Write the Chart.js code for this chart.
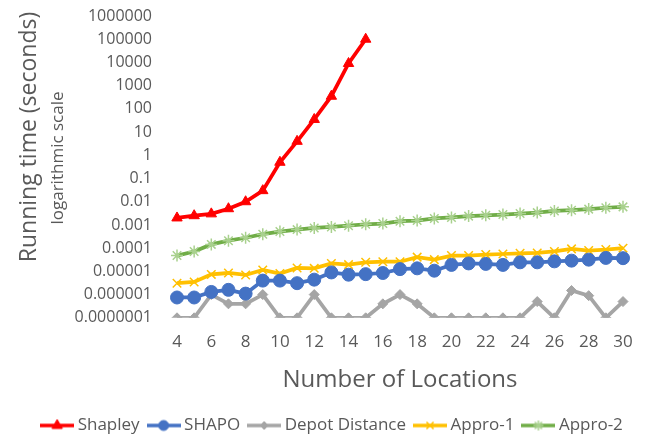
<!DOCTYPE html>
<html>
<head>
<meta charset="utf-8">
<script src="https://cdn.jsdelivr.net/npm/chart.js@4.4.0/dist/chart.umd.min.js"></script>
<style>
    html, body { margin: 0; padding: 0; background: #fff; }
    #wrap { width: 648px; height: 434px; }
</style>
</head>
<body>
<div id="wrap"><canvas id="runtimeChart" width="648" height="434"></canvas></div>
<script>
// Number of locations on the x axis
const locations = [4, 5, 6, 7, 8, 9, 10, 11, 12, 13, 14, 15, 16, 17, 18, 19, 20, 21, 22, 23, 24, 25, 26, 27, 28, 29, 30];

// Running times in seconds
const shapley = [0.002, 0.0025, 0.003, 0.005, 0.01, 0.03, 0.5, 4, 35, 350, 9000, 100000];
const shapo = [7.5e-7, 7.5e-7, 1.3e-6, 1.6e-6, 1.1e-6, 4e-6, 4e-6, 3.1e-6, 4.4e-6, 9e-6, 7.2e-6, 7.6e-6, 8.5e-6, 1.25e-5,
    1.35e-5, 1.07e-5, 1.9e-5, 2.2e-5, 2.1e-5, 1.9e-5, 2.45e-5, 2.45e-5, 2.7e-5, 2.9e-5, 3.2e-5, 3.8e-5, 3.7e-5];
const depotDistance = [1e-7, 1e-7, 1e-6, 4e-7, 4e-7, 1e-6, 1e-7, 1e-7, 1e-6, 1e-7, 1e-7, 1e-7, 4e-7, 1e-6,
    4e-7, 1e-7, 1e-7, 1e-7, 1e-7, 1e-7, 1e-7, 5e-7, 1e-7, 1.5e-6, 9e-7, 1e-7, 5e-7];
const appro1 = [3.1e-6, 3.5e-6, 7.4e-6, 8.5e-6, 7e-6, 1.15e-5, 8.1e-6, 1.4e-5, 1.35e-5, 2.2e-5, 1.95e-5, 2.45e-5, 2.6e-5, 2.6e-5,
    4.1e-5, 3.2e-5, 4.8e-5, 4.8e-5, 5.3e-5, 5.6e-5, 6e-5, 6.2e-5, 7.2e-5, 9.3e-5, 7.9e-5, 8.7e-5, 1e-4];
const appro2 = [4.8e-5, 7.2e-5, 1.45e-4, 2.1e-4, 2.8e-4, 4e-4, 5.2e-4, 6.3e-4, 7.4e-4, 8.2e-4, 9.3e-4, 1.07e-3, 1.15e-3, 1.45e-3,
    1.55e-3, 1.9e-3, 2.1e-3, 2.4e-3, 2.6e-3, 2.8e-3, 3.1e-3, 3.4e-3, 4e-3, 4.3e-3, 4.8e-3, 5.5e-3, 6e-3];

// Y axis tick values (powers of ten)
const yTicks = [1e-7, 1e-6, 1e-5, 1e-4, 1e-3, 1e-2, 1e-1, 1, 10, 100, 1000, 10000, 100000, 1000000];

const seriesNames = ['Shapley', 'SHAPO', 'Depot Distance', 'Appro-1', 'Appro-2'];
const xTitle = 'Number of Locations';
const yTitle = 'Running time (seconds)';
const ySubTitle = 'logarithmic scale';

const textColor = '#595959';
const fontFamily = '"Open Sans", sans-serif';

// Small legend icon: a line with the marker in the middle
function makeLegendIcon(lineColor, markerColor, style, radius, markerBorder) {
    const c = document.createElement('canvas');
    c.width = 34;
    c.height = 16;
    const ctx = c.getContext('2d');
    ctx.strokeStyle = lineColor;
    ctx.lineWidth = 3.5;
    ctx.beginPath();
    ctx.moveTo(0, 8);
    ctx.lineTo(34, 8);
    ctx.stroke();
    ctx.fillStyle = markerColor;
    ctx.strokeStyle = markerColor;
    ctx.lineWidth = markerBorder;
    Chart.helpers.drawPoint(ctx, { pointStyle: style, radius: radius, rotation: 0, borderWidth: markerBorder }, 17, 8);
    return c;
}

const yTitlesPlugin = {
    id: 'yTitles',
    afterDraw(chart) {
        const ctx = chart.ctx;
        ctx.save();
        ctx.fillStyle = textColor;
        ctx.textAlign = 'center';
        ctx.textBaseline = 'middle';
        ctx.save();
        ctx.translate(29, 137);
        ctx.rotate(-Math.PI / 2);
        ctx.font = '23px ' + fontFamily;
        ctx.fillText(yTitle, 0, 0);
        ctx.restore();
        ctx.translate(58, 158);
        ctx.rotate(-Math.PI / 2);
        ctx.font = '17px ' + fontFamily;
        ctx.fillText(ySubTitle, 0, 0);
        ctx.restore();
    }
};

function formatTick(value) {
    if (value >= 1) return String(Math.round(value));
    const decimals = Math.round(-Math.log10(value));
    return value.toFixed(decimals);
}

const datasets = [
    { label: seriesNames[0], data: shapley, borderColor: '#FF0000', backgroundColor: '#FF0000',
      pointStyle: 'triangle', pointRadius: 6, pointBorderWidth: 1,
      icon: makeLegendIcon('#FF0000', '#FF0000', 'triangle', 6, 1) },
    { label: seriesNames[1], data: shapo, borderColor: '#4472C4', backgroundColor: '#4472C4',
      pointStyle: 'circle', pointRadius: 6.5, pointBorderWidth: 1,
      icon: makeLegendIcon('#4472C4', '#4472C4', 'circle', 5, 1) },
    { label: seriesNames[2], data: depotDistance, borderColor: '#A5A5A5', backgroundColor: '#A5A5A5',
      pointStyle: 'rectRot', pointRadius: 5, pointBorderWidth: 1,
      icon: makeLegendIcon('#A5A5A5', '#A5A5A5', 'rectRot', 4, 1) },
    { label: seriesNames[3], data: appro1, borderColor: '#FFC000', backgroundColor: '#FFC000',
      pointStyle: 'crossRot', pointRadius: 6, pointBorderWidth: 1.5, pointBorderColor: '#FFC000',
      icon: makeLegendIcon('#FFC000', '#FFC000', 'crossRot', 5, 1.5) },
    { label: seriesNames[4], data: appro2, borderColor: '#70AD47', backgroundColor: '#70AD47',
      pointStyle: 'star', pointRadius: 6, pointBorderWidth: 1.5, pointBorderColor: '#A9D18E',
      icon: makeLegendIcon('#70AD47', '#A9D18E', 'star', 5, 1.5) }
];

datasets.forEach(ds => {
    ds.borderWidth = 3.75;
    ds.tension = 0;
    ds.fill = false;
    ds.pointHoverRadius = ds.pointRadius;
});

const ctx = document.getElementById('runtimeChart').getContext('2d');
const runtimeChart = new Chart(ctx, {
    type: 'line',
    data: {
        labels: locations,
        datasets: datasets
    },
    options: {
        responsive: false,
        animation: false,
        layout: {
            padding: { left: 20, right: 0, top: 16, bottom: -10 }
        },
        plugins: {
            tooltip: { enabled: false },
            legend: {
                position: 'bottom',
                labels: {
                    usePointStyle: true,
                    pointStyleWidth: 24,
                    padding: 12,
                    color: textColor,
                    font: { family: fontFamily, size: 17 },
                    generateLabels(chart) {
                        const items = Chart.defaults.plugins.legend.labels.generateLabels(chart);
                        items.forEach(item => {
                            item.pointStyle = chart.data.datasets[item.datasetIndex].icon;
                        });
                        return items;
                    }
                }
            }
        },
        scales: {
            x: {
                type: 'category',
                offset: false,
                grid: { display: false, drawTicks: false },
                border: { display: false },
                ticks: {
                    autoSkip: false,
                    maxRotation: 0,
                    padding: 14,
                    color: textColor,
                    font: { family: fontFamily, size: 17 },
                    callback: function(value, index) {
                        const loc = locations[index];
                        return loc % 2 === 0 ? String(loc) : '';
                    }
                },
                title: {
                    display: true,
                    text: xTitle,
                    color: textColor,
                    font: { family: fontFamily, size: 24 },
                    padding: { top: 0, bottom: 10 }
                }
            },
            y: {
                type: 'logarithmic',
                min: yTicks[0],
                max: yTicks[yTicks.length - 1],
                // invisible tick marks give the gap between labels and plot
                grid: { display: true, drawOnChartArea: false, drawTicks: true, tickLength: 21, color: 'rgba(0,0,0,0)' },
                border: { display: false },
                afterBuildTicks: function(axis) {
                    axis.ticks = yTicks.map(v => ({ value: v }));
                },
                afterFit: function(axis) {
                    axis.width = 157;
                },
                ticks: {
                    autoSkip: false,
                    padding: 4,
                    color: textColor,
                    font: { family: fontFamily, size: 16 },
                    callback: function(value) {
                        return formatTick(value);
                    }
                }
            },
            // empty right-hand axis, only keeps the right margin of the plot
            yRight: {
                type: 'linear',
                position: 'right',
                grid: { display: false, drawTicks: false },
                border: { display: false },
                ticks: { display: false },
                afterFit: function(axis) {
                    axis.width = 25;
                }
            }
        }
    },
    plugins: [yTitlesPlugin]
});
</script>
</body>
</html>
